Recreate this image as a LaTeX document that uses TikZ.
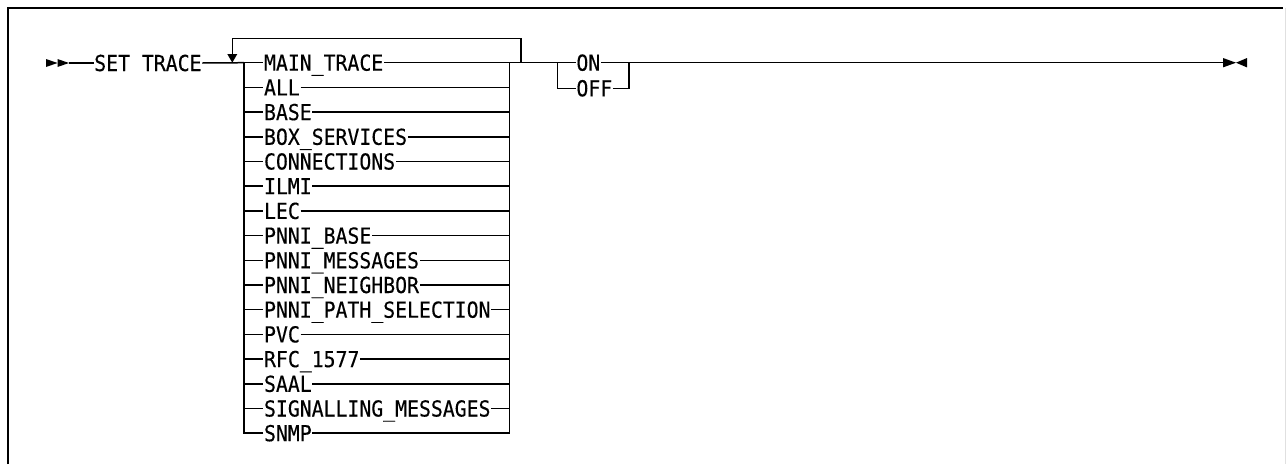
\documentclass[tikz,border=0pt]{standalone}
\usepackage{fontspec}
\newfontfamily\diagfont[FakeStretch=0.9,FakeBold=0.3]{DejaVu Sans Mono}
\begin{document}
\begin{tikzpicture}[x=1pt,y=-1pt,line width=1.5pt,
  lbl/.style={inner sep=0pt,anchor=west,font=\diagfont\fontsize{22}{22}\selectfont,text height=16pt,text depth=0pt},
  tipfill/.style={fill=black,draw=none}]
\useasboundingbox (0,0) rectangle (1286,464);
% frame
\draw[line width=2pt] (7.5,464) -- (7.5,7.5) -- (1283,7.5);
\draw[line width=0.6pt,black!12] (1285,7.5) -- (1285,464);
% start
\fill[tipfill] (46,59) -- (57.5,63) -- (46,67) -- cycle;
\fill[tipfill] (57.5,59) -- (69,63) -- (57.5,67) -- cycle;
\coordinate (start) at (69,63);
\node[lbl] (set) at (93.5,63) {SET TRACE};
\draw (start) -- (set.west);
% option stack
\foreach \t [count=\i from 0] in {MAIN\_TRACE,ALL,BASE,BOX\_SERVICES,CONNECTIONS,ILMI,LEC,PNNI\_BASE,PNNI\_MESSAGES,PNNI\_NEIGHBOR,PNNI\_PATH\_SELECTION,PVC,RFC\_1577,SAAL,SIGNALLING\_MESSAGES,SNMP}{
  \pgfmathsetmacro{\yy}{62.7+24.7*\i}
  \node[lbl] (o\i) at (263.3,\yy) {\t};
  \coordinate (L\i) at (244,\yy);
  \coordinate (R\i) at (509.3,\yy);
}
\foreach \i in {0,...,14}{
  \draw (L\i) -- (o\i.west);
  \draw (o\i.east) -- (R\i);
}
\draw (o15.west) -- (L15) -- (L0);
\draw (o15.east) -- (R15) -- (R0);
% repeat loop
\coordinate (J) at (521,62.7);
\coordinate (Jt) at (521,38.3);
\coordinate (At) at (232.3,38.3);
\coordinate (A) at (232.3,62.7);
\coordinate (Ab) at (232.3,55);
\draw (set.east) -- (L0);
\draw (R0) -- (J) -- (Jt) -- (At) -- (Ab);
\fill[tipfill] (227.3,54) -- (237.3,54) -- (A) -- cycle;
% ON / OFF
\coordinate (K0) at (557.3,62.7);
\coordinate (K1) at (557.3,88.3);
\coordinate (M0) at (629,62.7);
\coordinate (M1) at (629,88.3);
\node[lbl] (on) at (575.7,62.7) {ON};
\node[lbl] (off) at (575.7,88.3) {OFF};
\draw (J) -- (K0) -- (on.west);
\draw (K0) -- (K1) -- (off.west);
\draw (off.east) -- (M1) -- (M0);
\coordinate (fin) at (1223,62.7);
\draw (on.east) -- (M0) -- (fin);
% end
\fill[tipfill] (1223,58) -- (1236,62.7) -- (1223,67.4) -- cycle;
\fill[tipfill] (1247,58) -- (1236,62.7) -- (1247,67.4) -- cycle;
\end{tikzpicture}
\end{document}
